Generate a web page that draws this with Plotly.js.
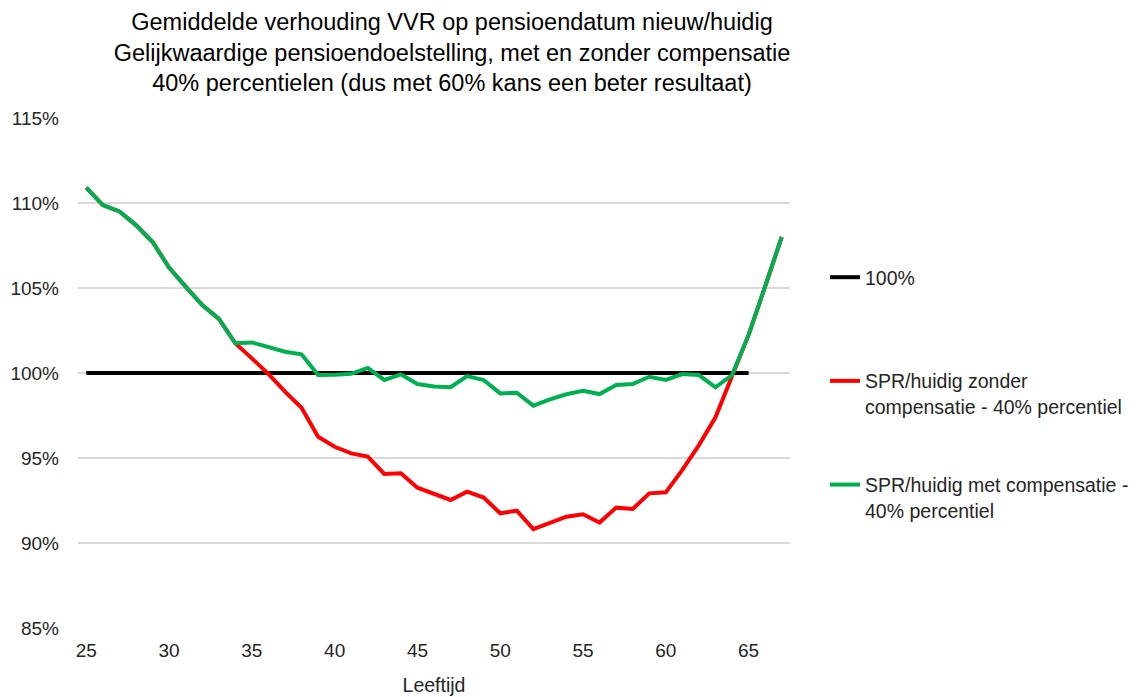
<!DOCTYPE html>
<html>
<head>
<meta charset="utf-8">
<script src="https://cdn.plot.ly/plotly-3.0.1.min.js"></script>
<style>
html,body{margin:0;padding:0;background:#fff;}
#chart{width:1140px;height:697px;}
</style>
</head>
<body>
<div id="chart"></div>
<script>
// Ages (x categories)
const ages = [25,26,27,28,29,30,31,32,33,34,35,36,37,38,39,40,41,42,43,44,45,46,47,48,49,50,51,52,53,54,55,56,57,58,59,60,61,62,63,64,65,66,67];
// 100% reference line, ages 25-65
const refAges = [25,26,27,28,29,30,31,32,33,34,35,36,37,38,39,40,41,42,43,44,45,46,47,48,49,50,51,52,53,54,55,56,57,58,59,60,61,62,63,64,65];
const refValues = [100,100,100,100,100,100,100,100,100,100,100,100,100,100,100,100,100,100,100,100,100,100,100,100,100,100,100,100,100,100,100,100,100,100,100,100,100,100,100,100,100];
// SPR/huidig zonder compensatie - 40% percentiel (in %)
const zonderComp = [110.9,109.88,109.5,108.7,107.72,106.2,105.08,104.0,103.2,101.75,100.86,99.95,98.9,97.95,96.25,95.66,95.27,95.08,94.06,94.1,93.25,92.92,92.53,93.02,92.67,91.75,91.9,90.82,91.18,91.55,91.69,91.2,92.08,92.0,92.92,92.98,94.3,95.76,97.39,99.88,102.24,105.1,108.0];
// SPR/huidig met compensatie - 40% percentiel (in %)
const metComp = [110.9,109.88,109.5,108.7,107.72,106.2,105.08,104.0,103.2,101.75,101.8,101.5,101.25,101.1,99.88,99.9,99.95,100.3,99.59,99.92,99.35,99.2,99.16,99.82,99.59,98.8,98.84,98.08,98.45,98.75,98.96,98.76,99.29,99.35,99.78,99.59,99.94,99.88,99.16,99.88,102.24,105.1,108.0];
// Tick labels
const xTicks = [25,30,35,40,45,50,55,60,65];
const yTicks = [85,90,95,100,105,110,115];
const yTickText = ['85%','90%','95%','100%','105%','110%','115%'];
const names = ['100%<br> ','SPR/huidig zonder<br>compensatie - 40% percentiel','SPR/huidig met compensatie -<br>40% percentiel'];

const FONT = 'Liberation Sans, Arial, sans-serif';
const TXT = '#262626';

const traces = [
  {x: refAges, y: refValues, type:'scatter', mode:'lines', name:names[0], legendgroup:'a',
   line:{color:'#000000', width:4}, hoverinfo:'skip'},
  {x: ages, y: zonderComp, type:'scatter', mode:'lines', name:names[1], legendgroup:'b',
   line:{color:'#ff0000', width:4}},
  {x: ages, y: metComp, type:'scatter', mode:'lines', name:names[2], legendgroup:'c',
   line:{color:'#00b050', width:4}}
];

const layout = {
  width:1140, height:697,
  margin:{l:78, r:350, t:118, b:69, pad:0},
  paper_bgcolor:'#ffffff', plot_bgcolor:'#ffffff',
  font:{family:FONT, color:TXT, size:19},
  title:{
    text:'Gemiddelde verhouding VVR op pensioendatum nieuw/huidig<br>Gelijkwaardige pensioendoelstelling, met en zonder compensatie<br>40% percentielen (dus met 60% kans een beter resultaat)',
    font:{family:FONT, size:23.5, color:'#000000'},
    xref:'container', x:452/1140, xanchor:'center',
    yref:'container', y:1-30/697, yanchor:'middle'
  },
  xaxis:{
    range:[24.5,67.5], tickvals:xTicks, ticktext:xTicks.map(String),
    showgrid:false, zeroline:false, showline:false, ticks:'',
    tickfont:{family:FONT, size:19, color:TXT}, ticklabelstandoff:9,
    title:{text:'Leeftijd', font:{family:FONT, size:19.5, color:TXT}, standoff:18}
  },
  yaxis:{
    range:[85,115], tickvals:yTicks, ticktext:yTickText,
    showgrid:true, gridcolor:'#d9d9d9', gridwidth:1.5, zeroline:false, showline:false, ticks:'',
    tickfont:{family:FONT, size:19, color:TXT}, ticklabelstandoff:18
  },
  showlegend:true,
  legend:{
    xref:'container', yref:'container', x:825/1140, xanchor:'left', y:1-258/697, yanchor:'top',
    font:{family:FONT, size:19.5, color:TXT}, tracegroupgap:50, valign:'top',
    bgcolor:'rgba(0,0,0,0)', traceorder:'grouped'
  }
};

Plotly.newPlot('chart', traces, layout, {displayModeBar:false, staticPlot:true});
</script>
</body>
</html>
